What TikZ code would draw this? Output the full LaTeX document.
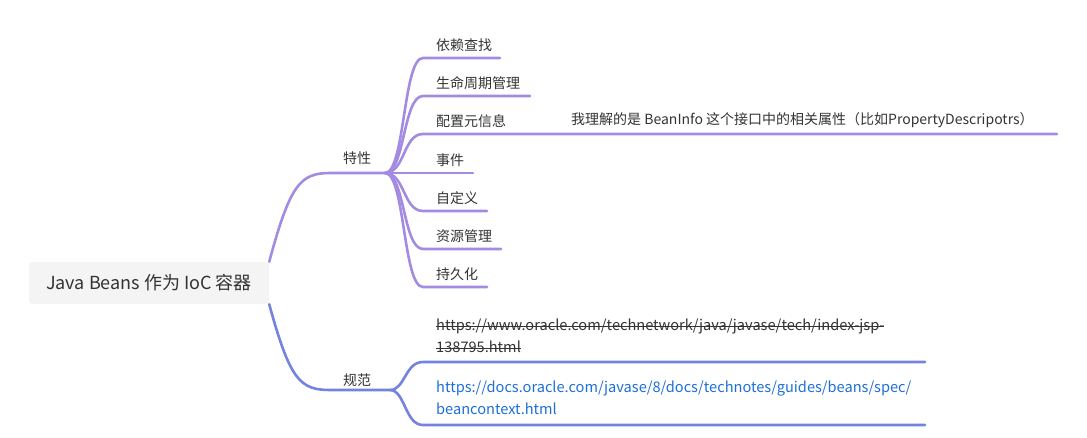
\documentclass[tikz,border=0pt]{standalone}
\usepackage{fontspec}
\setmainfont{Noto Sans CJK SC}
\usetikzlibrary{positioning}
\definecolor{feat}{HTML}{A48BE2}
\definecolor{spec}{HTML}{7383DF}
\definecolor{rootbg}{HTML}{F4F4F4}
\definecolor{txt}{HTML}{333333}
\definecolor{link}{HTML}{1D6FD8}
\newcommand{\strikeout}[1]{\setbox0\hbox{#1}\rlap{\rule[.3em]{\wd0}{0.8pt}}\box0}
\tikzset{
  root/.style     = {rectangle, rounded corners=3pt, fill=rootbg, text=txt,
                     minimum width=240pt, minimum height=42pt, font=\fontsize{18}{21}\selectfont},
  topic/.style    = {inner sep=0pt, text=txt, font=\fontsize{14}{17}\selectfont},
  leaf/.style     = {anchor=west, inner sep=0pt, text=txt, font=\fontsize{14}{17}\selectfont},
  urltxt/.style   = {leaf, align=left, font=\fontsize{14.6}{22}\selectfont},
  featline/.style = {draw=feat, line width=2.6pt, line cap=round},
  specline/.style = {draw=spec, line width=2.6pt, line cap=round},
}

\begin{document}
\begin{tikzpicture}[x=1pt,y=-1pt]
  \useasboundingbox (0,0) rectangle (1087,437);
  \node[root] (root) at (149,283) {Java Beans 作为 IoC 容器};

  % 特性
  \node[topic] (feat) at (357,158) {特性};
  \coordinate (fhub) at (385,173);
  \draw[featline] (root.north east) .. controls (290,185) and (300,173) .. (330,173) -- (fhub);
  \foreach \n/\t/\y/\xe in {lookup/依赖查找/58/500, life/生命周期管理/96/530,
      meta/配置元信息/134/1057, event/事件/173/473, custom/自定义/211/487,
      res/资源管理/249/501, persist/持久化/287/487} {
    \node[leaf] (\n) at (436,\y-13) {\t};
    \coordinate (\n end) at (\xe,\y);
    \draw[featline] (fhub) .. controls (405,173) and (403,\y) .. (423,\y) -- (\n end);
  }
  \node[leaf] (note) at (571,120) {我理解的是 BeanInfo 这个接口中的相关属性（比如PropertyDescripotrs）};

  % 规范
  \node[topic] (spec) at (357,380) {规范};
  \coordinate (shub) at (390,390);
  \draw[specline] (root.south east) .. controls (290,380) and (300,390) .. (330,390) -- (shub);
  \node[urltxt] (oldurl) at (436,336)
    {\strikeout{https://www.oracle.com/technetwork/java/javase/tech/index-jsp-}\\\strikeout{138795.html}};
  \coordinate (oldend) at (925,362);
  \draw[specline] (shub) .. controls (405,390) and (405,362) .. (423,362) -- (oldend);
  \node[urltxt, text=link] (newurl) at (436,398)
    {https://docs.oracle.com/javase/8/docs/technotes/guides/beans/spec/\\beancontext.html};
  \coordinate (newend) at (925,425);
  \draw[specline] (shub) .. controls (405,390) and (405,425) .. (423,425) -- (newend);
\end{tikzpicture}
\end{document}
